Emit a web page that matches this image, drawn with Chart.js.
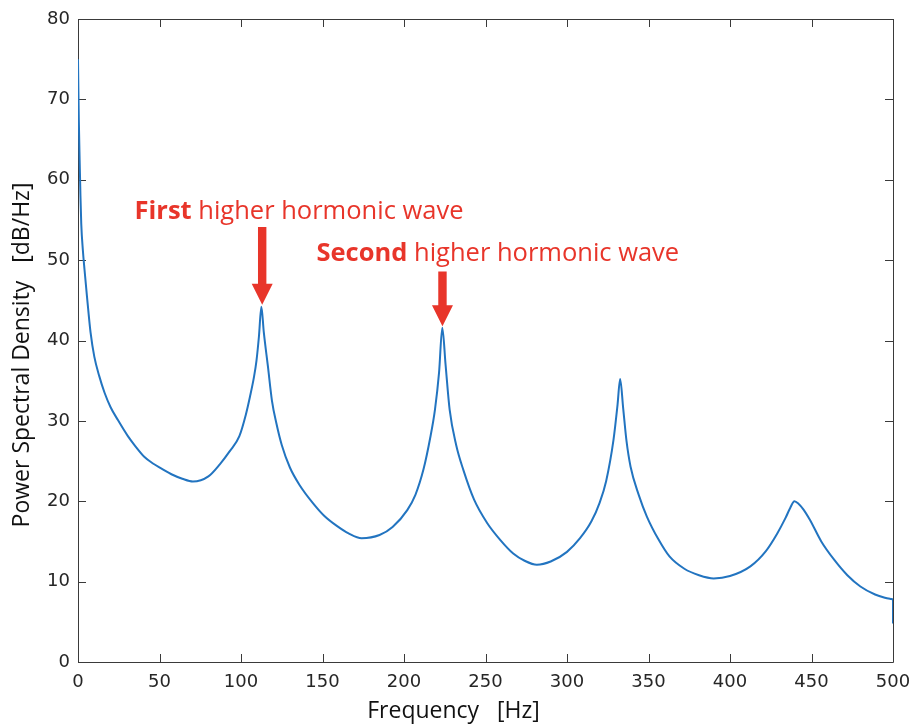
<!DOCTYPE html>
<html>
<head>
<meta charset="utf-8">
<script src="https://cdn.jsdelivr.net/npm/chart.js@4.4.1/dist/chart.umd.min.js"></script>
<style>
  html, body { margin: 0; padding: 0; background: #ffffff; }
  #wrap { width: 914px; height: 725px; position: relative; }
</style>
</head>
<body>
<div id="wrap"><canvas id="c" width="914" height="725"></canvas></div>
<script>
// ---- data ----
const freqHz = [
  0, 0.25, 0.5, 1, 1.5, 2, 3, 4, 5.5, 7.7, 10, 13, 16.3, 20, 24.5, 30.6, 35, 40.8, 46, 51,
  58, 64, 70.5, 80, 87, 93, 99,
  103, 105.5, 108, 109.5, 111, 112.5, 114, 116.5, 119, 121.7, 125, 130, 136, 144, 151, 159,
  166, 174, 185, 193, 202, 207, 212, 216, 219, 221.5, 223.5, 225.5, 228, 232, 236.4,
  243, 251, 259, 267, 274, 281.5, 290, 300, 308, 315, 320, 324, 328.5, 331, 332.6,
  334.5, 336.5, 339, 344, 349, 356, 363, 372, 381, 390, 400, 412.5, 422, 429, 434,
  437, 439.5, 442, 445, 449, 456, 464, 472, 480, 489, 495, 498.5, 500, 500
];
const psdDb = [
  75, 71, 67.5, 62.5, 58, 54.5, 51.2, 48.8, 45.5, 41, 38, 35.6, 33.5, 31.7, 30.1, 28.1, 26.9, 25.5, 24.7, 24.1,
  23.3, 22.8, 22.45, 23.1, 24.6, 26.2, 28.1,
  30.8, 33, 35.5, 37.5, 40.5, 44.2, 41, 36.8, 32.5, 29.7, 27, 24.2, 22, 19.8, 18.2, 16.9,
  16, 15.4, 15.8, 16.8, 18.9, 20.8, 24, 27.8, 31.4, 36, 41.6, 37, 31.4, 27, 23.9,
  20.2, 17.3, 15.2, 13.5, 12.6, 12.1, 12.5, 13.7, 15.4, 17.5, 19.8, 22.5, 27.6, 32, 35.2,
  31.5, 27.5, 24.3, 20.8, 18.1, 15.3, 13.1, 11.6, 10.8, 10.4, 10.7, 11.9, 13.8, 16, 17.9,
  19.2, 20, 19.7, 19, 17.7, 15, 12.7, 10.8, 9.4, 8.4, 8.0, 7.85, 7.8, 4.8
];
const xTickValues = [0, 50, 100, 150, 200, 250, 300, 350, 400, 450, 500];
const yTickValues = [0, 10, 20, 30, 40, 50, 60, 70, 80];
const annotationTexts = [
  { bold: 'First', rest: ' higher hormonic wave' },
  { bold: 'Second', rest: ' higher hormonic wave' }
];
const peakFreqs = [113, 223.6];

// ---- placement of the annotations (data coordinates) ----
const annotationPlacement = [
  { textX: 34.7, textY: 55.17, arrowTop: 54.13, arrowTip: 44.46 },
  { textX: 146.3, textY: 49.85, arrowTop: 48.6, arrowTip: 41.76 }
];

const points = freqHz.map((f, i) => ({ x: f, y: psdDb[i] }));

const frameColor = '#3a3a3a';
const textColor = '#262626';
const red = '#e8352a';

const framePlugin = {
  id: 'frame',
  beforeDatasetsDraw(chart) {
    const { ctx, chartArea: a, scales: { x, y } } = chart;
    ctx.save();
    ctx.strokeStyle = frameColor;
    ctx.lineWidth = 1;
    ctx.beginPath();
    ctx.rect(Math.round(a.left) + 0.5, Math.round(a.top) + 0.5,
             Math.round(a.right - a.left), Math.round(a.bottom - a.top));
    const tl = 8;
    xTickValues.forEach(v => {
      const px = Math.round(x.getPixelForValue(v)) + 0.5;
      ctx.moveTo(px, a.bottom); ctx.lineTo(px, a.bottom - tl);
      ctx.moveTo(px, a.top); ctx.lineTo(px, a.top + tl);
    });
    yTickValues.forEach(v => {
      const py = Math.round(y.getPixelForValue(v)) + 0.5;
      ctx.moveTo(a.left, py); ctx.lineTo(a.left + tl, py);
      ctx.moveTo(a.right, py); ctx.lineTo(a.right - tl, py);
    });
    ctx.stroke();
    ctx.restore();
  },
  afterDatasetsDraw(chart) {
    const { ctx, scales: { x, y } } = chart;
    ctx.save();
    ctx.fillStyle = red;
    ctx.textBaseline = 'alphabetic';
    ctx.textAlign = 'left';
    annotationTexts.forEach((t, i) => {
      const p = annotationPlacement[i];
      const tx = x.getPixelForValue(p.textX);
      const ty = y.getPixelForValue(p.textY);
      ctx.font = 'bold 25.5px "Open Sans"';
      ctx.fillText(t.bold, tx, ty);
      const w = ctx.measureText(t.bold).width;
      ctx.font = '25.5px "Open Sans"';
      ctx.fillText(t.rest, tx + w, ty);
      // arrow
      const ax = x.getPixelForValue(peakFreqs[i]);
      const top = y.getPixelForValue(p.arrowTop);
      const tip = y.getPixelForValue(p.arrowTip);
      const headLen = 21, headHalf = 10.5, shaftHalf = 4.2;
      ctx.beginPath();
      ctx.moveTo(ax - shaftHalf, top);
      ctx.lineTo(ax + shaftHalf, top);
      ctx.lineTo(ax + shaftHalf, tip - headLen);
      ctx.lineTo(ax + headHalf, tip - headLen);
      ctx.lineTo(ax, tip);
      ctx.lineTo(ax - headHalf, tip - headLen);
      ctx.lineTo(ax - shaftHalf, tip - headLen);
      ctx.closePath();
      ctx.fill();
    });
    ctx.restore();
  }
};

new Chart(document.getElementById('c'), {
  type: 'line',
  data: {
    datasets: [{
      data: points,
      borderColor: '#2274c0',
      borderWidth: 2,
      pointRadius: 0,
      fill: false,
      cubicInterpolationMode: 'monotone'
    }]
  },
  options: {
    responsive: false,
    animation: false,
    devicePixelRatio: 1,
    layout: { padding: { top: 19, right: 21, left: 0, bottom: 0 } },
    plugins: { legend: { display: false }, tooltip: { enabled: false } },
    scales: {
      x: {
        type: 'linear',
        min: 0, max: 500,
        afterBuildTicks: s => { s.ticks = xTickValues.map(v => ({ value: v })); },
        afterFit: s => { s.height = 63; s.paddingLeft = 0; s.paddingRight = 0; },
        grid: { display: false, drawTicks: false },
        border: { display: false },
        ticks: { color: textColor, font: { family: 'DejaVu Sans', size: 18 }, padding: 10, maxRotation: 0, autoSkip: false },
        title: {
          display: true,
          text: 'Frequency   [Hz]\u2003\u2003   ',
          color: '#111',
          font: { family: 'Open Sans', size: 23 },
          padding: { top: 0, bottom: 0 }
        }
      },
      y: {
        type: 'linear',
        min: 0, max: 80,
        afterBuildTicks: s => { s.ticks = yTickValues.map(v => ({ value: v })); },
        afterFit: s => { s.width = 78; s.paddingTop = 0; s.paddingBottom = 0; },
        grid: { display: false, drawTicks: false },
        border: { display: false },
        ticks: { color: textColor, font: { family: 'DejaVu Sans', size: 18 }, padding: 8, autoSkip: false },
        title: {
          display: true,
          text: 'Power Spectral Density   [dB/Hz]\u2003 ',
          color: '#111',
          font: { family: 'Open Sans', size: 23 },
          padding: { top: 9, bottom: 0 }
        }
      }
    }
  },
  plugins: [framePlugin]
});
</script>
</body>
</html>
